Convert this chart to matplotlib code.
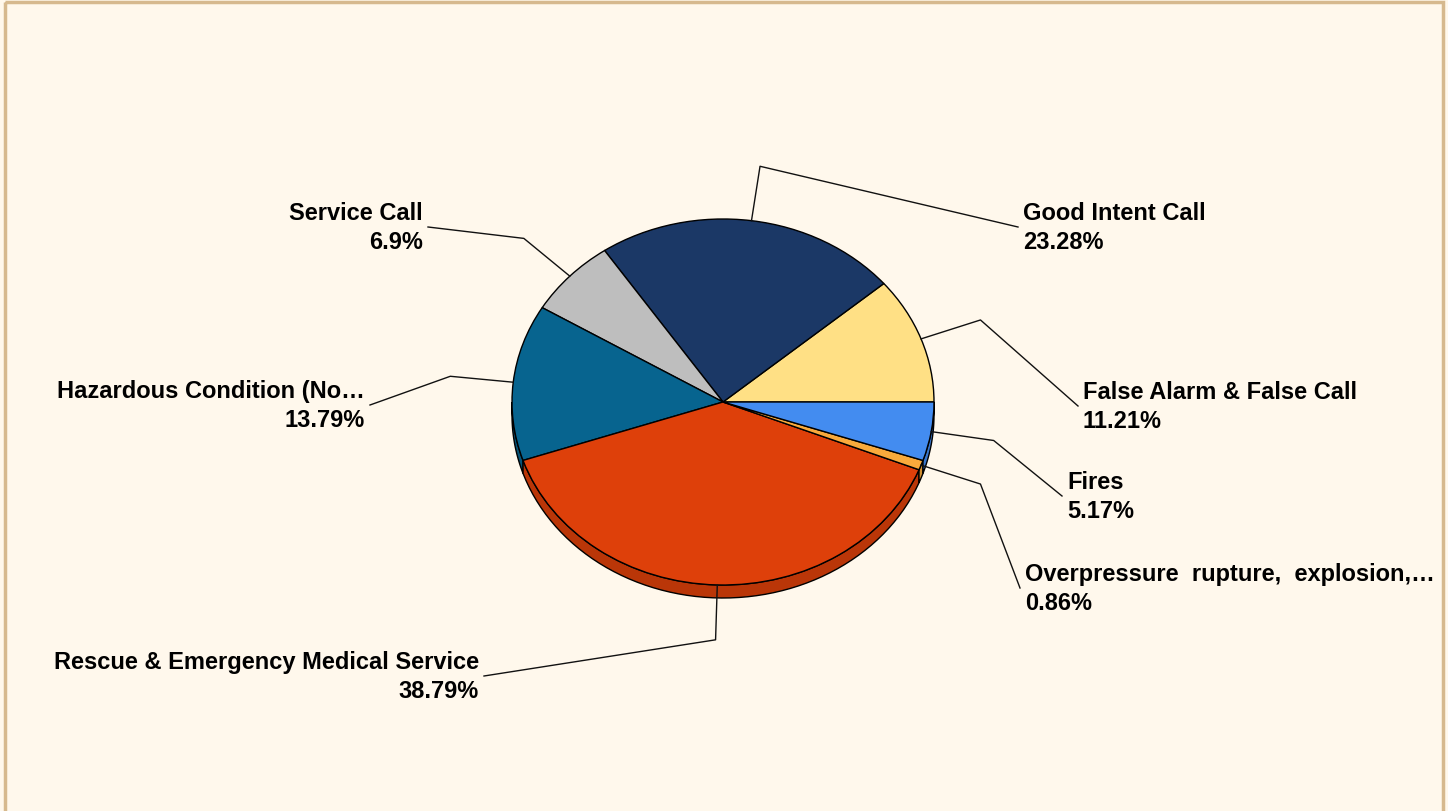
import numpy as np
import matplotlib
matplotlib.use("Agg")
import matplotlib.pyplot as plt
from matplotlib.patches import Polygon, Rectangle
from matplotlib.colors import to_rgb

# incident counts by category (116 total)
categories = ["False Alarm & False Call", "Good Intent Call", "Service Call",
              "Hazardous Condition (No\u2026", "Rescue & Emergency Medical Service",
              "Overpressure  rupture,  explosion,\u2026", "Fires"]
counts = [13, 27, 8, 16, 45, 1, 6]
colors = ["#FFE085", "#1B3866", "#BEBEBE", "#07648F", "#DE400A", "#F9AA3C", "#438CF0"]

# label anchor (end of leader line) in pixels, and which side the text goes
label_xy = [(1078, 407), (1018, 228), (428, 228), (370, 406), (484, 677), (1020, 589), (1062, 497)]
label_side = ["left", "left", "right", "right", "right", "left", "left"]

W, H = 1448, 812
cx, cy, rx, ry = 723, 403, 211, 183
depth = 13

plt.rcParams["font.family"] = ["Liberation Sans", "DejaVu Sans"]
fig = plt.figure(figsize=(W / 100, H / 100), dpi=100)
fig.patch.set_facecolor("#FFF8EC")

# pie axes sits exactly on the ellipse bounding box
ax = fig.add_axes([(cx - rx) / W, 1 - (cy + ry) / H, 2 * rx / W, 2 * ry / H])
wedges, _ = ax.pie(counts, colors=colors, startangle=0, counterclock=True,
                   radius=1, wedgeprops=dict(edgecolor="black", linewidth=1))
ax.set_aspect("auto")
ax.set_xlim(-1, 1)
ax.set_ylim(-1, 1)
ax.axis("off")

# 3D side band for the front (lower) half
d = depth / ry
for w, c in zip(wedges, colors):
    t1, t2 = max(w.theta1, 180), min(w.theta2, 360)
    if t2 <= t1:
        continue
    t = np.radians(np.linspace(t1, t2, 60))
    top = np.column_stack([np.cos(t), np.sin(t)])
    bot = top[::-1] - [0, d]
    shade = tuple(v * 0.84 for v in to_rgb(c))
    ax.add_patch(Polygon(np.vstack([top, bot]), closed=True, facecolor=shade,
                         edgecolor="black", linewidth=1, zorder=0, clip_on=False))

# overlay in pixel coordinates for leader lines and labels
ov = fig.add_axes([0, 0, 1, 1], facecolor="none")
ov.set_xlim(0, W)
ov.set_ylim(H, 0)
ov.axis("off")

total = sum(counts)
for w, name, n, (lx, ly), side in zip(wedges, categories, counts, label_xy, label_side):
    m = np.radians((w.theta1 + w.theta2) / 2)
    ex, ey = cx + rx * np.cos(m), cy - ry * np.sin(m)
    kx, ky = cx + 1.3 * rx * np.cos(m), cy - 1.3 * ry * np.sin(m)
    ov.plot([ex, kx, lx], [ey, ky, ly], color="#111111", linewidth=1)
    pct = round(100 * n / total, 2)
    txt = f"{name}\n{pct:g}%"
    if side == "left":
        ov.text(lx + 5, ly, txt, ha="left", va="center", fontsize=17,
                fontweight="bold", linespacing=1.35, multialignment="left")
    else:
        ov.text(lx - 5, ly, txt, ha="right", va="center", fontsize=17,
                fontweight="bold", linespacing=1.35, multialignment="right")

ov.add_patch(Rectangle((5, 3), 1438, 820, fill=False, edgecolor="#D6B98E",
                       linewidth=2.5, clip_on=False))

fig.savefig("out.png", dpi=100, facecolor=fig.get_facecolor())
